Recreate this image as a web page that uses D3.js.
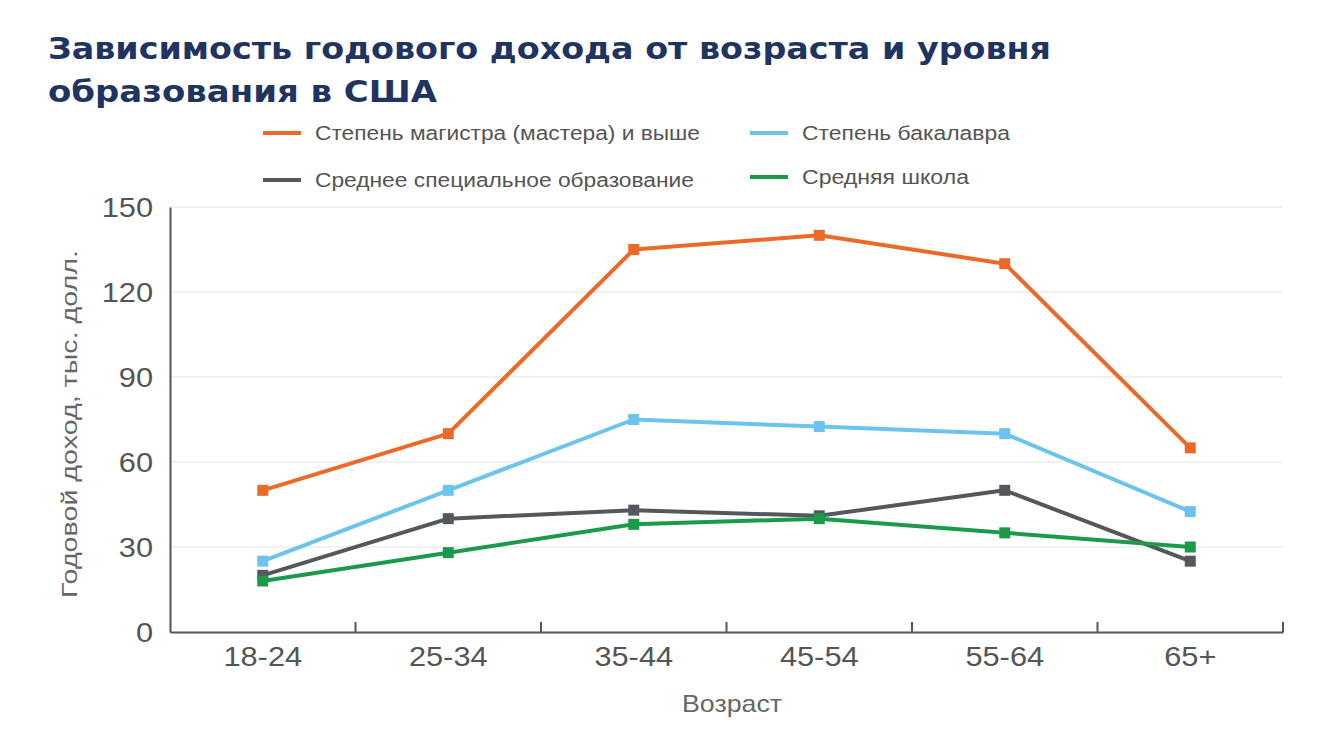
<!DOCTYPE html>
<html><head><meta charset="utf-8">
<script src="https://cdn.jsdelivr.net/npm/d3@7"></script>
<style>body{margin:0;background:#fff;font-family:"Liberation Sans",Arial,sans-serif;}</style>
</head><body>
<svg id="c" width="1334" height="750"></svg>
<script>
const categories = ["18-24","25-34","35-44","45-54","55-64","65+"];
const seriesNames = ["Степень магистра (мастера) и выше","Степень бакалавра","Среднее специальное образование","Средняя школа"];
const masters   = [50, 70, 135, 140, 130, 65];
const bachelor  = [25, 50, 75, 72.5, 70, 42.5];
const associate = [20, 40, 43, 41, 50, 25];
const highSchool= [18, 28, 38, 40, 35, 30];
const yTicks = [0, 30, 60, 90, 120, 150];
const colors = ["#EC6A28", "#6CC4EC", "#54585C", "#1B9A4B"];

const svg = d3.select("#c");
const L = 170, R = 1283, T = 207, B = 632;
const x = d3.scaleBand().domain(categories).range([L, R]);
const y = d3.scaleLinear().domain([0, 150]).range([B, T]);
const FONT = "Liberation Sans, Arial, sans-serif";

// title
const titleLines = [["Зависимость годового дохода от возраста и уровня", 59, 1003], ["образования в США", 102, 389]];
titleLines.forEach(([t, ty, tl]) => {
  svg.append("text").attr("x", 48).attr("y", ty).attr("fill", "#1F3461").attr("font-weight", "bold")
    .attr("font-size", 30).attr("font-family", "DejaVu Sans, sans-serif")
    .attr("textLength", tl).attr("lengthAdjust", "spacingAndGlyphs").text(t);
});

// gridlines
svg.append("g").selectAll("line").data(yTicks.filter(d => d > 0)).join("line")
  .attr("x1", L).attr("x2", R).attr("y1", d => y(d)).attr("y2", d => y(d))
  .attr("stroke", "#ededed").attr("stroke-width", 1.5);

// y axis
const SX = 1.1;
const ya = svg.append("g").attr("transform", `translate(${L},0)`)
  .call(d3.axisLeft(y).tickValues(yTicks).tickSize(0).tickPadding(17));
ya.select(".domain").attr("stroke", "#555").attr("stroke-width", 2);
ya.selectAll("text").attr("font-size", 28).attr("fill", "#555").attr("font-family", FONT)
  .attr("x", -17 / SX).attr("transform", `scale(${SX},1)`).attr("dy", "0.35em");

// x axis
const xa = svg.append("g").attr("transform", `translate(0,${B})`)
  .call(d3.axisBottom(x).tickSize(0).tickPadding(14));
xa.select(".domain").attr("stroke", "#555").attr("stroke-width", 2);
xa.selectAll("text").attr("font-size", 28).attr("fill", "#555").attr("font-family", FONT)
  .attr("transform", `scale(${SX},1)`);
// boundary ticks pointing up
svg.append("g").selectAll("line").data(categories).join("line")
  .attr("x1", d => x(d) + x.bandwidth()).attr("x2", d => x(d) + x.bandwidth())
  .attr("y1", B).attr("y2", B - 10).attr("stroke", "#555").attr("stroke-width", 2);

// axis titles
svg.append("text").attr("x", 682).attr("y", 712)
  .attr("font-size", 24).attr("fill", "#666").attr("font-family", FONT)
  .attr("textLength", 100).attr("lengthAdjust", "spacingAndGlyphs").text("Возраст");
svg.append("text").attr("transform", "translate(77,598) rotate(-90)")
  .attr("font-size", 22).attr("fill", "#666").attr("font-family", FONT)
  .attr("textLength", 348).attr("lengthAdjust", "spacingAndGlyphs").text("Годовой доход, тыс. долл.");

// lines
const data = [masters, bachelor, associate, highSchool];
const line = d3.line().x((d, i) => x(categories[i]) + x.bandwidth() / 2).y(d => y(d));
[0, 1, 2, 3].forEach(k => {
  const g = svg.append("g");
  g.append("path").datum(data[k]).attr("d", line).attr("fill", "none")
    .attr("stroke", colors[k]).attr("stroke-width", 4).attr("stroke-linejoin", "round");
  g.selectAll("rect").data(data[k]).join("rect")
    .attr("x", (d, i) => x(categories[i]) + x.bandwidth() / 2 - 5.5)
    .attr("y", d => y(d) - 5.5).attr("width", 11).attr("height", 11).attr("fill", colors[k]);
});

// legend
const legendPos = [[263, 133, 385], [750, 133, 208], [263, 180, 379], [750, 177, 167]];
seriesNames.forEach((n, k) => {
  const [lx, ly, tl] = legendPos[k];
  svg.append("line").attr("x1", lx).attr("x2", lx + 38).attr("y1", ly).attr("y2", ly)
    .attr("stroke", colors[k]).attr("stroke-width", 4);
  svg.append("text").attr("x", lx + 52).attr("y", ly + 7).attr("font-size", 20).attr("fill", "#555")
    .attr("font-family", FONT).attr("textLength", tl).attr("lengthAdjust", "spacingAndGlyphs").text(n);
});
</script>
</body></html>
